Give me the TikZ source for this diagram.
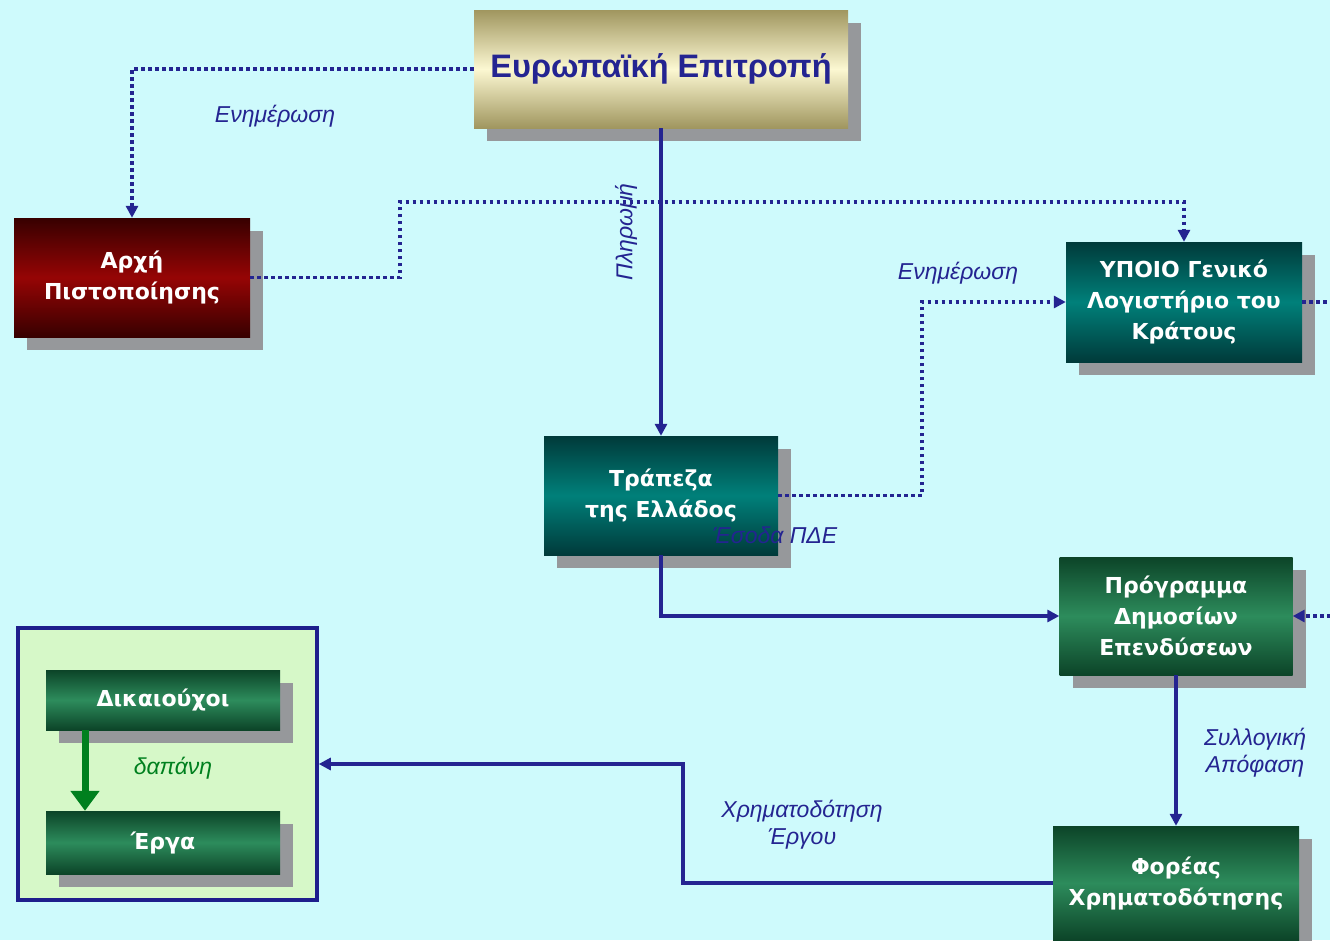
\documentclass[tikz,border=0pt]{standalone}
\usepackage{fontspec}
\setmainfont{DejaVu Sans}
\newfontfamily\lblfont{Liberation Sans}
\usetikzlibrary{arrows.meta,shadows}
\definecolor{bgcol}{RGB}{206,250,252}
\definecolor{linecol}{RGB}{36,36,145}
\definecolor{shadowgray}{RGB}{150,152,155}
\definecolor{goldA}{RGB}{160,150,95}
\definecolor{goldB}{RGB}{252,248,210}
\definecolor{redA}{RGB}{55,0,0}
\definecolor{redB}{RGB}{150,5,5}
\definecolor{tealA}{RGB}{0,58,58}
\definecolor{tealB}{RGB}{0,128,122}
\definecolor{greenA}{RGB}{12,68,40}
\definecolor{greenB}{RGB}{45,140,92}
\definecolor{grpfill}{RGB}{214,248,200}
\definecolor{grpdraw}{RGB}{30,30,140}
\definecolor{dgreen}{RGB}{0,128,30}
\tikzset{
  boxbase/.style={rectangle, draw=none, inner sep=0pt, align=center, text=white,
    font=\fontsize{22}{31}\bfseries,
    general shadow={fill=shadowgray, shadow xshift=13pt, shadow yshift=-13pt}},
  goldbox/.style={boxbase, top color=goldA, bottom color=goldA, middle color=goldB, text=linecol,
    font=\lblfont\fontsize{32.5}{38}\bfseries},
  redbox/.style={boxbase, top color=redA, bottom color=redA, middle color=redB},
  tealbox/.style={boxbase, top color=tealA, bottom color=tealA, middle color=tealB},
  greenbox/.style={boxbase, top color=greenA, bottom color=greenA, middle color=greenB},
  dotline/.style={draw=linecol, line width=3.5pt, dash pattern=on 3.5pt off 3.5pt, -{Triangle[length=12pt,width=12pt]}},
  solidline/.style={draw=linecol, line width=3.5pt, -{Triangle[length=12pt,width=12pt]}},
  lbl/.style={text=linecol, font=\lblfont\itshape\fontsize{23}{27}\selectfont, align=center, inner sep=0pt},
}
\begin{document}
\begin{tikzpicture}[x=1pt,y=-1pt]
\useasboundingbox (0,0) rectangle (1330,940);
\fill[bgcol] (0,0) rectangle (1330,940);
\clip (0,0) rectangle (1330,940);

% group box
\node[draw=grpdraw, fill=grpfill, line width=3.5pt, minimum width=299pt, minimum height=272pt, inner sep=0pt] (GR) at (167.5,764) {};

% boxes
\node[goldbox, minimum width=374pt, minimum height=118pt] (EE) at (661,69) {Ευρωπαϊκή Επιτροπή};
\node[redbox, minimum width=236pt, minimum height=119pt] (AP) at (132,277.5) {Αρχή\\Πιστοποίησης};
\node[tealbox, minimum width=236pt, minimum height=120pt] (YP) at (1184,302) {ΥΠΟΙΟ Γενικό\\Λογιστήριο του\\Κράτους};
\node[tealbox, minimum width=234pt, minimum height=119pt] (TE) at (661,495.5) {Τράπεζα\\της Ελλάδος};
\node[greenbox, minimum width=233pt, minimum height=118pt] (PD) at (1176,616) {Πρόγραμμα\\Δημοσίων\\Επενδύσεων};
\node[greenbox, minimum width=246pt, minimum height=114pt] (FO) at (1176,883) {Φορέας\\Χρηματοδότησης};
\node[greenbox, minimum width=234pt, minimum height=60pt] (DI) at (163,700) {Δικαιούχοι};
\node[greenbox, minimum width=234pt, minimum height=63pt] (ER) at (163,842.5) {Έργα};

% connectors
\draw[dotline] (EE.west) -| (AP.north);
\draw[dotline] (AP.east) -| (400,202) -| (YP.north);
\draw[solidline] (EE.south) -- (TE.north);
\draw[dotline] (TE.east) -| (922,302) -- (YP.west);
\draw[dotline] (YP.east) -- (1345,302) |- (PD.east);
\draw[solidline] (TE.south) |- (PD.west);
\draw[solidline] (PD.south) -- (FO.north);
\draw[solidline] (FO.west) -| (683,764) -- (GR.east);
\draw[draw=dgreen, line width=7pt, -{Triangle[length=20pt,width=28pt]}] ([xshift=-78pt]DI.south) -- ([xshift=-78pt]ER.north);

% labels
\node[lbl] (L1) at (275,116) {Ενημέρωση};
\node[lbl, rotate=90] (L2) at (626,232) {Πληρωμή};
\node[lbl] (L3) at (958,273) {Ενημέρωση};
\node[lbl] (L4) at (775,535) {Έσοδα ΠΔΕ};
\node[lbl] (L5) at (1255,753) {Συλλογική\\Απόφαση};
\node[lbl] (L6) at (802,825) {Χρηματοδότηση\\Έργου};
\node[lbl, text=dgreen] (L7) at (173,768) {δαπάνη};
\end{tikzpicture}
\end{document}
